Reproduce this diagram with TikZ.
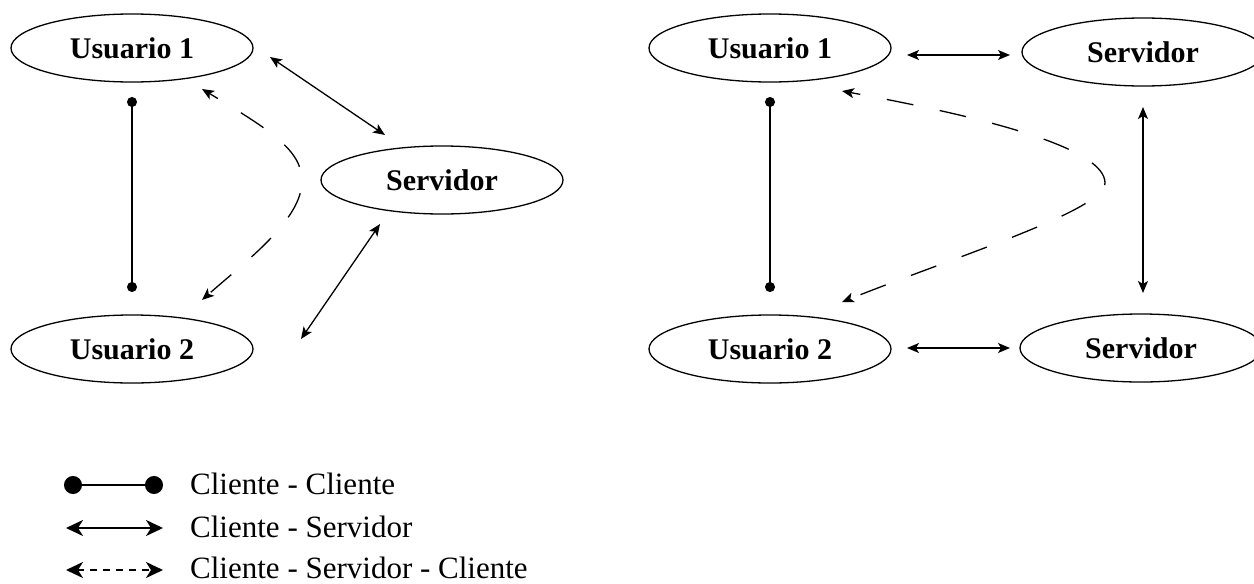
\documentclass[tikz,border=0pt]{standalone}
\usepackage{fontspec}
\setmainfont{Liberation Serif}
\usetikzlibrary{arrows.meta,shapes.geometric}
\begin{document}
\begin{tikzpicture}[x=1pt,y=-1pt,
  ent/.style={draw, ellipse, minimum width=242pt, minimum height=68pt,
    inner sep=0pt, line width=1.3pt, font=\fontsize{30}{36}\selectfont\bfseries},
  link/.style={line width=1.3pt},
  both/.style={link, {Stealth[length=12pt,width=10pt,inset=3pt]}-{Stealth[length=12pt,width=10pt,inset=3pt]}},
  relay/.style={both, dash pattern=on 27pt off 27pt, dash phase=17pt},
  peer/.style={link, {Circle[length=10pt]}-{Circle[length=10pt]}},
  key/.style={line width=2.2pt},
  keyboth/.style={key, {Stealth[length=17pt,width=16pt,inset=5pt]}-{Stealth[length=17pt,width=16pt,inset=5pt]}},
  keytext/.style={anchor=base west, inner sep=0pt, font=\fontsize{31}{37}\selectfont}
]
\useasboundingbox (0,0) rectangle (1254,584);

% ---- left: single server ----
\node[ent] (u1l) at (132,48)  {Usuario 1};
\node[ent] (u2l) at (132,349) {Usuario 2};
\node[ent] (sl)  at (442,180) {Servidor};

\coordinate (pl1) at (132,97);
\coordinate (pl2) at (132,292);
\draw[peer] (pl1) -- (pl2);

\coordinate (al1) at (270,57);
\coordinate (al2) at (385,135);
\coordinate (al3) at (380,224);
\coordinate (al4) at (301,339);
\draw[both] (al1) -- (al2);
\draw[both] (al3) -- (al4);

\coordinate (rl1) at (202,89);
\coordinate (rl2) at (302,181);
\coordinate (rl3) at (202,300);
\draw[relay] (rl1) .. controls (270,130) and (302,150) .. (rl2)
                   .. controls (302,220) and (245,262) .. (rl3);

% ---- right: two servers ----
\node[ent] (u1r) at (770,48)   {Usuario 1};
\node[ent] (u2r) at (770,349)  {Usuario 2};
\node[ent] (s1r) at (1143,52)  {Servidor};
\node[ent] (s2r) at (1141,348) {Servidor};

\coordinate (pr1) at (770,97);
\coordinate (pr2) at (770,292);
\draw[peer] (pr1) -- (pr2);

\coordinate (ar1) at (907,55);
\coordinate (ar2) at (1010,55);
\coordinate (ar3) at (907,348);
\coordinate (ar4) at (1010,348);
\coordinate (ar5) at (1143,107);
\coordinate (ar6) at (1143,293);
\draw[both] (ar1) -- (ar2);
\draw[both] (ar3) -- (ar4);
\draw[both] (ar5) -- (ar6);

\coordinate (rr1) at (842,91);
\coordinate (rr2) at (1105,183);
\coordinate (rr3) at (842,302);
\draw[relay] (rr1) .. controls (1000,120) and (1105,150) .. (rr2)
                   .. controls (1105,210) and (960,255) .. (rr3);

% ---- legend ----
\coordinate (k1a) at (64,485);
\coordinate (k1b) at (163,485);
\draw[key, {Circle[length=18pt]}-{Circle[length=18pt]}] (k1a) -- (k1b);
\node[keytext] (t1) at (190,494) {Cliente - Cliente};

\coordinate (k2a) at (66,528);
\coordinate (k2b) at (163,528);
\draw[keyboth] (k2a) -- (k2b);
\node[keytext] (t2) at (190,537) {Cliente - Servidor};

\coordinate (k3a) at (66,570);
\coordinate (k3b) at (163,570);
\draw[keyboth, dash pattern=on 7pt off 6pt] (k3a) -- (k3b);
\node[keytext] (t3) at (190,578) {Cliente - Servidor - Cliente};
\end{tikzpicture}
\end{document}
